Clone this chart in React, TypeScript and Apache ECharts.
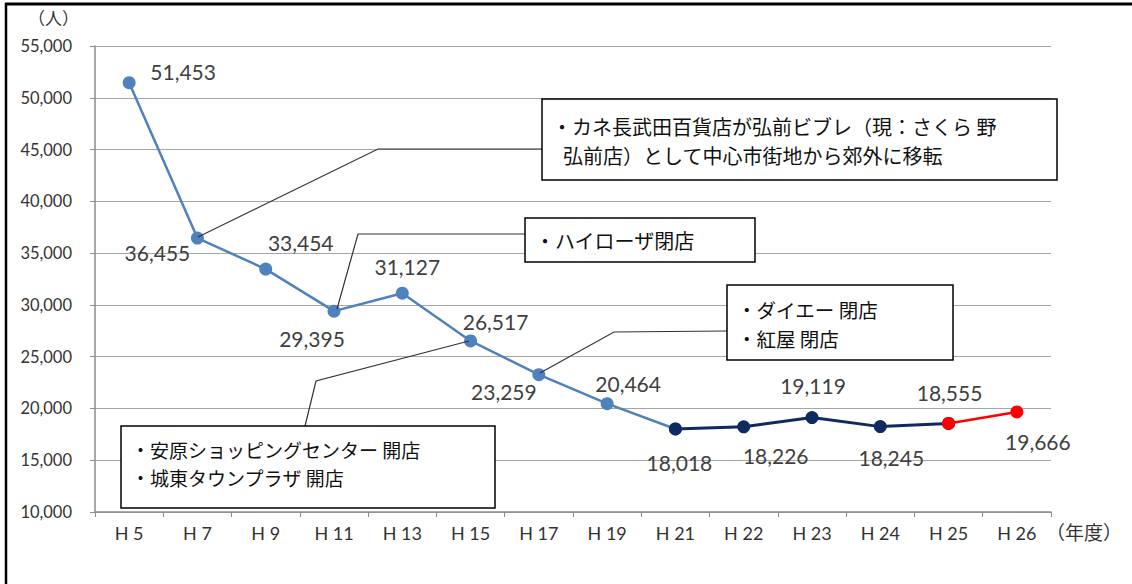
import React, { useEffect, useRef } from "react";
import * as echarts from "echarts";

const categories = ["H 5", "H 7", "H 9", "H 11", "H 13", "H 15", "H 17", "H 19", "H 21", "H 22", "H 23", "H 24", "H 25", "H 26"];
const visitors = [51453, 36455, 33454, 29395, 31127, 26517, 23259, 20464, 18018, 18226, 19119, 18245, 18555, 19666];
// index ranges of the three coloured segments
const earlyRange = [0, 8];
const midRange = [8, 12];
const lateRange = [12, 13];
// label ranges (which series labels which point)
const earlyLabels = [0, 7];
const midLabels = [8, 11];
const lateLabels = [12, 13];

const yMin = 10000;
const yMax = 55000;
const yStep = 5000;

const notes1 = ["・カネ長武田百貨店が弘前ビブレ（現：さくら 野", "弘前店）として中心市街地から郊外に移転"];
const notes2 = ["・ハイローザ閉店"];
const notes3 = ["・ダイエー 閉店", "・紅屋 閉店"];
const notes4 = ["・安原ショッピングセンター 開店", "・城東タウンプラザ 開店"];

// label offsets from point centres (layout only)
const labelOffsets = [
  [54, -11], [-40, 14], [35, -27], [-22, 27], [5, -27], [25, -19], [-35, 17],
  [21, -20], [4, 34], [32, 29], [1, -32], [11, 31], [1, -31], [21, 30],
];

const numFont = "Lato, 'Noto Sans', sans-serif";
const jpFont = "'Noto Sans CJK JP', sans-serif";

function buildSeries(name: string, color: string, width: number, range: number[], labels: number[]) {
  const data = visitors.map((v, i) => {
    if (i < range[0] || i > range[1]) return "-";
    const showLabel = i >= labels[0] && i <= labels[1];
    return {
      value: v,
      label: {
        show: showLabel,
        position: "inside",
        offset: labelOffsets[i],
      },
    };
  });
  return {
    name,
    type: "line",
    data,
    symbol: "circle",
    symbolSize: 13,
    lineStyle: { color, width },
    itemStyle: { color },
    label: {
      show: true,
      formatter: (p: any) => Number(p.value).toLocaleString("en-US"),
      fontSize: 21,
      color: "#404040",
      fontFamily: numFont,
    },
    emphasis: { disabled: true },
  };
}

function box(x: number, y: number, w: number, h: number, lines: string[], tx: number, ty: number[], fs: number, extraX: number[] = []) {
  const children: any[] = [
    { type: "rect", shape: { x, y, width: w, height: h }, style: { fill: "#fff", stroke: "#000", lineWidth: 1.5 }, z: 50 },
  ];
  lines.forEach((t, i) => {
    children.push({
      type: "text",
      x: tx + (extraX[i] || 0),
      y: ty[i],
      style: { text: t, fontSize: fs, fontFamily: jpFont, fill: "#111", verticalAlign: "middle", align: "left" },
      z: 51,
    });
  });
  return children;
}

function leader(points: number[][]) {
  return { type: "polyline", shape: { points }, style: { stroke: "#333", lineWidth: 1.2, fill: null }, z: 49 };
}

export default function App() {
  const ref = useRef<HTMLDivElement>(null);
  useEffect(() => {
    if (!ref.current) return;
    const chart = echarts.init(ref.current, null, { renderer: "svg" });
    chart.setOption({
      animation: false,
      backgroundColor: "#fff",
      grid: { left: 95, right: 81, top: 46, bottom: 72, containLabel: false },
      xAxis: {
        type: "category",
        data: categories,
        boundaryGap: true,
        axisLine: { show: true, lineStyle: { color: "#8c8c8c", width: 1.5 } },
        axisTick: { show: true, length: 5, lineStyle: { color: "#8c8c8c" } },
        axisLabel: { margin: 12, fontSize: 18, color: "#333", fontFamily: numFont },
        splitLine: { show: false },
      },
      yAxis: {
        type: "value",
        min: yMin,
        max: yMax,
        interval: yStep,
        axisLine: { show: true, lineStyle: { color: "#8c8c8c", width: 1.5 } },
        axisTick: { show: true, length: 5, lineStyle: { color: "#8c8c8c" } },
        axisLabel: {
          margin: 23,
          fontSize: 16.5,
          color: "#333",
          fontFamily: numFont,
          formatter: (v: number) => v.toLocaleString("en-US"),
        },
        splitLine: { show: true, lineStyle: { color: "#a6a6a6", width: 1 } },
      },
      series: [
        buildSeries("early", "#4F81BD", 2.5, earlyRange, earlyLabels),
        buildSeries("mid", "#0F2A5E", 3, midRange, midLabels),
        buildSeries("late", "#FF0000", 2.5, lateRange, lateLabels),
      ],
      graphic: [
        { type: "line", shape: { x1: 5, y1: 4, x2: 1132, y2: 4 }, style: { stroke: "#000", lineWidth: 3 }, z: 60 },
        { type: "line", shape: { x1: 6, y1: 3, x2: 6, y2: 584 }, style: { stroke: "#000", lineWidth: 2.5 }, z: 60 },
        {
          type: "text", x: 28, y: 17,
          style: { text: "（人）", fontSize: 17, fontFamily: jpFont, fill: "#333", verticalAlign: "middle" },
        },
        {
          type: "text", x: 1046, y: 531,
          style: { text: "（年度）", fontSize: 19, fontFamily: jpFont, fill: "#333", verticalAlign: "middle" },
        },
        leader([[198, 237], [378, 149], [542, 149]]),
        leader([[337, 309], [358, 234], [525, 234]]),
        leader([[540, 373], [614, 332], [727, 331]]),
        leader([[469, 341], [316, 381], [305, 426]]),
        ...box(542, 99, 515, 81, notes1, 552, [126, 155], 20, [0, 11]),
        ...box(525, 218, 230, 44, notes2, 535, [240], 20),
        ...box(727, 285, 226, 75, notes3, 737, [309, 338], 19.5),
        ...box(121, 426, 374, 82, notes4, 131, [449, 477], 19),
      ],
    });
    return () => chart.dispose();
  }, []);
  return (
    <div
      ref={ref}
      style={{ position: "absolute", left: 0, top: 0, width: 1132, height: 584 }}
    />
  );
}
